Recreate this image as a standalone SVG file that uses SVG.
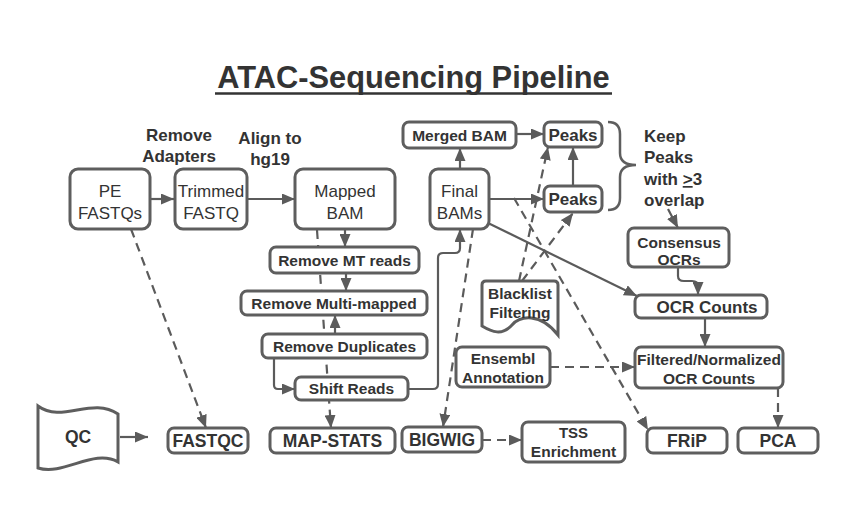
<svg xmlns="http://www.w3.org/2000/svg" width="858" height="508" viewBox="0 0 858 508">
<defs>
<marker id="ah" markerWidth="13" markerHeight="11" refX="13" refY="5.5" orient="auto" markerUnits="userSpaceOnUse">
<path d="M0,0 L13,5.5 L0,11 Z" fill="#5b5b5b"/>
</marker>
<style>
.box{fill:#fff;stroke:#5e5e5e;stroke-width:3}
.t{font-family:"Liberation Sans",Arial,sans-serif;fill:#333;text-anchor:middle}
.r{font-size:17px}
.b{font-weight:bold}
.s{font-size:15.5px}
.m{font-size:17px}
.l{font-size:17.5px}
.c{fill:none;stroke:#5b5b5b;stroke-width:2.2}
.a{marker-end:url(#ah)}
.d{stroke-dasharray:9,6}
</style>
</defs>
<rect width="858" height="508" fill="#fff"/>
<g id="title">
<text class="t b" x="413.5" y="88" font-size="30.8">ATAC-Sequencing Pipeline</text>
<line x1="215" y1="93.5" x2="612" y2="93.5" stroke="#333" stroke-width="2.5"/>
</g>
<g id="labels">
<text class="t b m" x="179" y="141">Remove</text>
<text class="t b m" x="179" y="162">Adapters</text>
<text class="t b m" x="270" y="144">Align to</text>
<text class="t b m" x="270" y="165">hg19</text>
<text class="t b m" x="644" y="142" style="text-anchor:start">Keep</text>
<text class="t b m" x="644" y="163" style="text-anchor:start">Peaks</text>
<text class="t b m" x="644" y="185" style="text-anchor:start">with <tspan style="text-decoration:underline">&gt;</tspan>3</text>
<text class="t b m" x="644" y="206" style="text-anchor:start">overlap</text>
<path d="M608,122 Q620,122 620,134 V153 Q620,165 636,165 Q620,165 620,177 V198 Q620,210 608,210" fill="none" stroke="#5e5e5e" stroke-width="2.5"/>
</g>
<g id="connectors">
<path class="c a" d="M150,199 H174"/>
<path class="c a" d="M247,199 H295"/>
<path class="c d a" d="M317,230 L331,428"/>
<path class="c d a" d="M131,229 L206,428"/>
<path class="c a" d="M345,230 V247"/>
<path class="c a" d="M346,273 V291"/>
<path class="c a" d="M335,334 V315"/>
<path class="c a" d="M274,358 V385 Q274,389 278,389 H295"/>
<path class="c a" d="M408,389 H433 Q438,389 438,384 V258 Q438,253 443,253 H455 Q460,253 460,248 V229"/>
<path class="c a" d="M120,437 H148"/>
<path class="c a" d="M460,169 V148"/>
<path class="c a" d="M516,134 H544"/>
<path class="c a" d="M489,199 H544"/>
<path class="c a" d="M573,186 V147"/>
<path class="c a" d="M488,223 L637,296"/>
<path class="c d a" d="M519,281 L548,147"/>
<path class="c d a" d="M522,281 L573,213"/>
<path class="c d a" d="M514,198 L648,430"/>
<path class="c d a" d="M473,229 L443,427"/>
<path class="c d a" d="M482,440 H522"/>
<path class="c a" d="M678,267 V276 Q678,281 684,281 H692 Q698,281 698,286 V295"/>
<path class="c a" d="M705,318 V347"/>
<path class="c d a" d="M550,367 H635"/>
<path class="c d a" d="M778,388 V428"/>
<path class="c a" d="M668,209 L678,228"/>
</g>
<g id="pe"><rect class="box" x="70" y="169" width="80" height="60" rx="8"/><text class="t r" x="110" y="197">PE</text><text class="t r" x="110" y="219">FASTQs</text></g>
<g id="trimmed"><rect class="box" x="175" y="169" width="72" height="60" rx="8"/><text class="t r" x="211" y="197">Trimmed</text><text class="t r" x="211" y="219">FASTQ</text></g>
<g id="mapped"><rect class="box" x="295" y="169" width="100" height="60" rx="8"/><text class="t r" x="345" y="197">Mapped</text><text class="t r" x="345" y="219">BAM</text></g>
<g id="final"><rect class="box" x="430" y="169" width="59" height="60" rx="8"/><text class="t r" x="459.5" y="197">Final</text><text class="t r" x="459.5" y="219">BAMs</text></g>
<g id="merged"><rect class="box" x="403" y="122" width="113" height="26" rx="6"/><text class="t b s" x="459.5" y="140.5">Merged BAM</text></g>
<g id="peaks1"><rect class="box" x="544" y="122" width="58" height="25" rx="6"/><text class="t b m" x="573" y="140.5">Peaks</text></g>
<g id="peaks2"><rect class="box" x="544" y="186" width="58" height="26" rx="6"/><text class="t b m" x="573" y="205">Peaks</text></g>
<g id="consensus"><rect class="box" x="628" y="228" width="101" height="39" rx="6"/><text class="t b s" x="679" y="247.5">Consensus</text><text class="t b s" x="679" y="265">OCRs</text></g>
<g id="ocrcounts"><rect class="box" x="635" y="295" width="132" height="23" rx="6"/><text class="t b m" x="707" y="312.5">OCR Counts</text></g>
<g id="filtered"><rect class="box" x="635" y="347" width="148" height="41" rx="6"/><text class="t b s" x="709" y="364.5">Filtered/Normalized</text><text class="t b s" x="709" y="384">OCR Counts</text></g>
<g id="ensembl"><rect class="box" x="456" y="347" width="94" height="40" rx="6"/><text class="t b s" x="503" y="364">Ensembl</text><text class="t b s" x="503" y="383">Annotation</text></g>
<g id="blacklist"><path class="box" d="M486,281 H554 Q558,281 558,285 V335 C540,312 520,316 512,325 C502,336 492,332 482,326 V285 Q482,281 486,281 Z"/><text class="t b s" x="520" y="298.5">Blacklist</text><text class="t b s" x="520" y="317.5">Filtering</text></g>
<g id="removemt"><rect class="box" x="270" y="247" width="149" height="26" rx="6"/><text class="t b s" x="344.5" y="265.5">Remove MT reads</text></g>
<g id="removemulti"><rect class="box" x="241" y="291" width="186" height="24" rx="6"/><text class="t b s" x="334" y="308.5">Remove Multi-mapped</text></g>
<g id="removedup"><rect class="box" x="262" y="334" width="165" height="24" rx="6"/><text class="t b s" x="344.5" y="351.5">Remove Duplicates</text></g>
<g id="shift"><rect class="box" x="295" y="377" width="113" height="23" rx="6"/><text class="t b s" x="351.5" y="394">Shift Reads</text></g>
<g id="qc"><path class="box" d="M38,406 C62,424 92,396 118,414 V462 C94,448 64,476 38,468 Z"/><text class="t b l" x="78" y="443">QC</text></g>
<g id="fastqc"><rect class="box" x="168" y="428" width="80" height="25" rx="6"/><text class="t b l" x="208" y="446.5">FASTQC</text></g>
<g id="mapstats"><rect class="box" x="270" y="428" width="125" height="25" rx="6"/><text class="t b l" x="332.5" y="446.5">MAP-STATS</text></g>
<g id="bigwig"><rect class="box" x="402" y="427" width="80" height="25" rx="6"/><text class="t b l" x="442" y="446">BIGWIG</text></g>
<g id="tss"><rect class="box" x="522" y="422" width="103" height="40" rx="6"/><text class="t b" font-size="15" x="573.5" y="438">TSS</text><text class="t b" font-size="15.5" x="573.5" y="457">Enrichment</text></g>
<g id="frip"><rect class="box" x="647" y="428" width="80" height="25" rx="6"/><text class="t b l" x="687" y="446.5">FRiP</text></g>
<g id="pca"><rect class="box" x="738" y="428" width="80" height="25" rx="6"/><text class="t b l" x="778" y="446.5">PCA</text></g>
</svg>
